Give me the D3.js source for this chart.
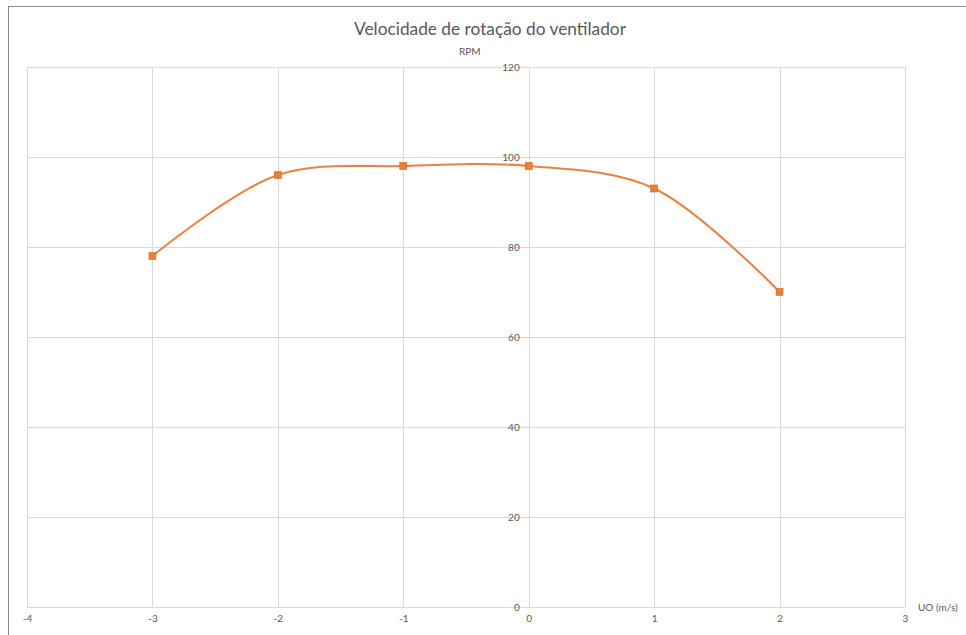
<!DOCTYPE html>
<html><head><meta charset="utf-8">
<script src="https://cdn.jsdelivr.net/npm/d3@7"></script>
<style>body{margin:0;background:#fff;}svg{display:block;font-family:Lato,"Open Sans",sans-serif;}</style>
</head><body>
<script>
const xValues = [-3, -2, -1, 0, 1, 2];
const rpmValues = [78, 96, 98, 98, 93, 70];
const xTicks = [-4, -3, -2, -1, 0, 1, 2, 3];
const yTicks = [0, 20, 40, 60, 80, 100, 120];
const title = "Velocidade de rotação do ventilador";
const yTitle = "RPM";
const xTitle = "UO (m/s)";

const W = 966, H = 635;
const svg = d3.select("body").append("svg").attr("width", W).attr("height", H);
svg.append("rect").attr("x", 8.5).attr("y", 6.5).attr("width", W).attr("height", H)
  .attr("fill", "#fff").attr("stroke", "#8c8c8c").attr("stroke-width", 1);

const x = d3.scaleLinear().domain([-4, 3]).range([27, 905]);
const y = d3.scaleLinear().domain([0, 120]).range([607, 67]);

// grid
svg.append("g").selectAll("line").data(yTicks).join("line")
  .attr("x1", x(-4)).attr("x2", x(3)).attr("y1", d => Math.round(y(d)) + 0.5).attr("y2", d => Math.round(y(d)) + 0.5)
  .attr("stroke", "#d9d9d9");
svg.append("g").selectAll("line").data(xTicks).join("line")
  .attr("y1", y(0)).attr("y2", y(120)).attr("x1", d => Math.round(x(d)) + 0.5).attr("x2", d => Math.round(x(d)) + 0.5)
  .attr("stroke", "#d9d9d9");

// x axis labels
const xAxis = d3.axisBottom(x).tickValues(xTicks).tickSize(0).tickPadding(8).tickFormat(d => String(d));
const gx = svg.append("g").attr("transform", `translate(0,${y(0)})`).call(xAxis);
gx.select(".domain").remove();
gx.selectAll("text").attr("fill", "#595959").attr("font-size", 10).attr("font-family", "Lato");

// y axis labels at x=0
const yAxis = d3.axisLeft(y).tickValues(yTicks).tickSize(0).tickPadding(9).tickFormat(d => String(d));
const gy = svg.append("g").attr("transform", `translate(${x(0)},0)`).call(yAxis);
gy.select(".domain").remove();
gy.selectAll("text").attr("fill", "#595959").attr("font-size", 10).attr("font-family", "Lato");

// titles
svg.append("text").attr("x", 490).attr("y", 35).attr("text-anchor", "middle")
  .attr("font-size", 17.3).attr("fill", "#595959").text(title);
svg.append("text").attr("x", x(0) - 59).attr("y", 55).attr("text-anchor", "middle")
  .attr("font-size", 10).attr("fill", "#595959").text(yTitle);
svg.append("text").attr("x", 918).attr("y", 611).attr("text-anchor", "start")
  .attr("font-size", 10).attr("fill", "#595959").text(xTitle);

// line
const data = xValues.map((v, i) => ({x: v, y: rpmValues[i]}));
const line = d3.line().x(d => x(d.x)).y(d => y(d.y)).curve(d3.curveCatmullRom.alpha(0.5));
svg.append("path").datum(data).attr("d", line).attr("fill", "none")
  .attr("stroke", "#E9813F").attr("stroke-width", 2).attr("stroke-linejoin", "round");
svg.append("g").selectAll("rect").data(data).join("rect")
  .attr("x", d => x(d.x) - 3.5).attr("y", d => y(d.y) - 3.5).attr("width", 7).attr("height", 7)
  .attr("fill", "#E8803A").attr("stroke", "#d2691e").attr("stroke-width", 0.6);
</script>
</body></html>
